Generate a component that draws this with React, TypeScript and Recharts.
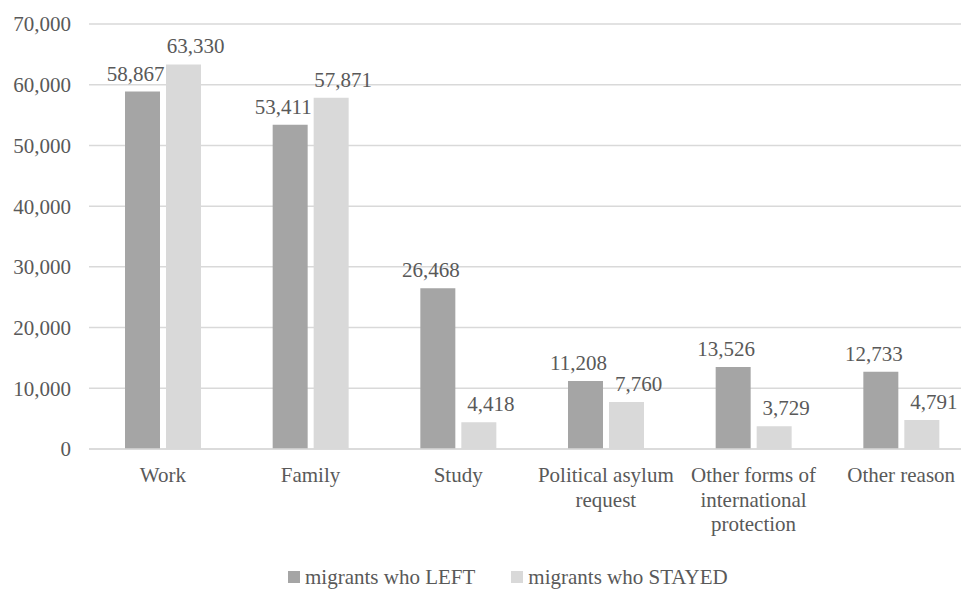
import { Bar, BarChart, CartesianGrid, Legend, LabelList, XAxis, YAxis } from "recharts";

const categories = [
  "Work",
  "Family",
  "Study",
  "Political asylum request",
  "Other forms of international protection",
  "Other reason",
];
const tickLines = [
  ["Work"],
  ["Family"],
  ["Study"],
  ["Political asylum", "request"],
  ["Other forms of", "international", "protection"],
  ["Other reason"],
];
const leftValues = [58867, 53411, 26468, 11208, 13526, 12733];
const stayedValues = [63330, 57871, 4418, 7760, 3729, 4791];
const yTicks = [0, 10000, 20000, 30000, 40000, 50000, 60000, 70000];

const data = categories.map((name, i) => ({
  name,
  left: leftValues[i],
  stayed: stayedValues[i],
}));

const FONT = "Liberation Serif";
const TEXT = "#595959";
const fmt = (v: number) => v.toLocaleString("en-US");

const CategoryTick = ({ x, y, index }: any) => (
  <text x={x} y={y} textAnchor="middle" style={{ fontFamily: FONT, fontSize: 21 }} fill={TEXT}>
    {tickLines[index].map((line, i) => (
      <tspan key={i} x={x} dy={i === 0 ? 33 : 24.5}>
        {line}
      </tspan>
    ))}
  </text>
);

// labels are nudged outward a little so the pairs don't run into each other
const valueLabel = (dx: number) => (props: any) => {
  const { x, y, width, value } = props;
  return (
    <text
      x={x + width / 2 + dx}
      y={y - 11}
      textAnchor="middle"
      style={{ fontFamily: FONT, fontSize: 21 }}
      fill={TEXT}
    >
      {fmt(value)}
    </text>
  );
};

const LegendBox = () => (
  <div
    style={{
      height: 24,
      lineHeight: "24px",
      display: "flex",
      alignItems: "center",
      paddingLeft: 288,
      fontFamily: FONT,
      fontSize: 21,
      color: TEXT,
    }}
  >
    <span style={{ width: 12, height: 12, background: "#a5a5a5", marginRight: 5 }} />
    <span>migrants who LEFT</span>
    <span style={{ width: 12, height: 12, background: "#d9d9d9", marginLeft: 36, marginRight: 5 }} />
    <span>migrants who STAYED</span>
  </div>
);

export default function App() {
  return (
    <div style={{ width: 961, height: 589, overflow: "hidden", background: "#fff", fontFamily: FONT }}>
      <style>{"body { margin: 0; overflow: hidden; }"}</style>
      <BarChart
        width={980}
        height={589}
        data={data}
        margin={{ top: 24, right: 5, left: 0, bottom: 0 }}
        barGap={6}
        barSize={35}
        style={{ fontFamily: FONT }}
      >
        <CartesianGrid vertical={false} stroke="#d9d9d9" strokeWidth={1.5} />
        <XAxis
          dataKey="name"
          height={116}
          interval={0}
          tickLine={false}
          tickSize={0}
          tickMargin={0}
          axisLine={{ stroke: "#d9d9d9", strokeWidth: 1.5 }}
          tick={<CategoryTick />}
        />
        <YAxis
          width={89}
          domain={[0, 70000]}
          ticks={yTicks}
          axisLine={false}
          tickLine={false}
          tickSize={0}
          tickMargin={18}
          tickFormatter={fmt}
          tick={{ fontFamily: FONT, fontSize: 21, fill: TEXT }}
        />
        <Legend verticalAlign="bottom" content={<LegendBox />} />
        <Bar dataKey="left" name="migrants who LEFT" fill="#a5a5a5" isAnimationActive={false}>
          <LabelList dataKey="left" content={valueLabel(-7)} />
        </Bar>
        <Bar dataKey="stayed" name="migrants who STAYED" fill="#d9d9d9" isAnimationActive={false}>
          <LabelList dataKey="stayed" content={valueLabel(12)} />
        </Bar>
      </BarChart>
    </div>
  );
}
